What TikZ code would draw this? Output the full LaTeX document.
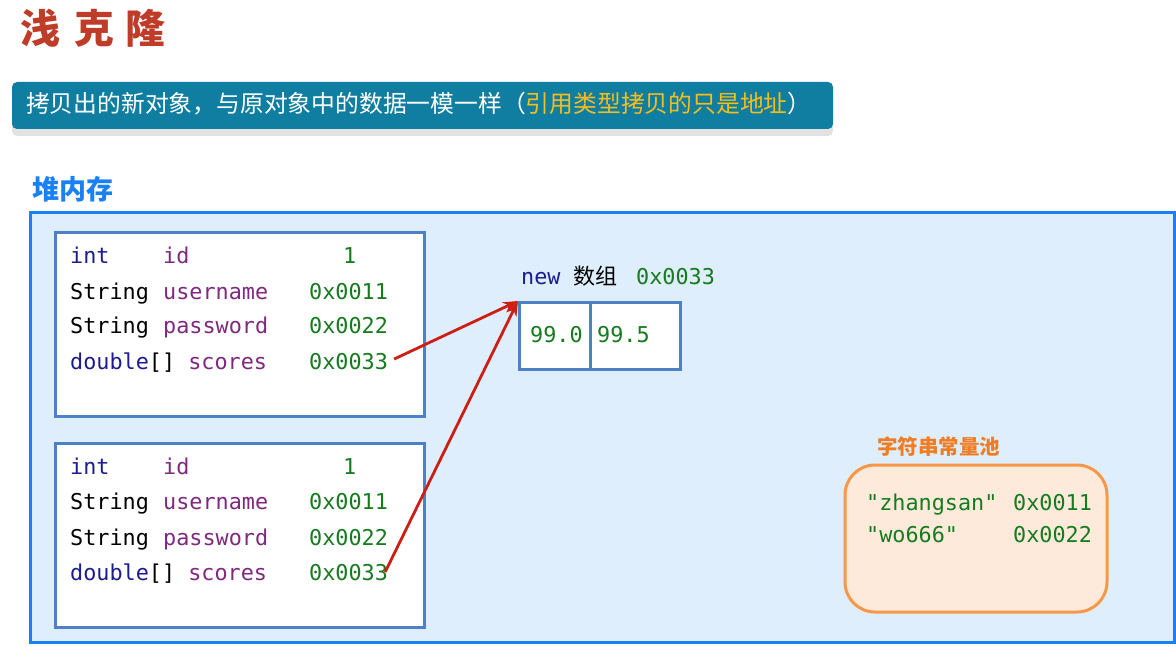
\documentclass[tikz,border=0pt]{standalone}
\usepackage{fontspec}
\setmainfont{Noto Sans CJK SC}
\newfontfamily\mono{DejaVu Sans Mono}
\newfontfamily\cjk{Noto Sans CJK SC}
\usetikzlibrary{arrows.meta}
\definecolor{titlered}{RGB}{190,60,40}
\definecolor{bannerbg}{RGB}{16,126,160}
\definecolor{bannershadow}{RGB}{226,226,226}
\definecolor{bannerhl}{RGB}{245,190,30}
\definecolor{heapblue}{RGB}{25,128,245}
\definecolor{heapfill}{RGB}{222,238,252}
\definecolor{objborder}{RGB}{78,128,200}
\definecolor{kwblue}{RGB}{28,28,140}
\definecolor{fieldpurple}{RGB}{128,40,128}
\definecolor{valgreen}{RGB}{22,122,30}
\definecolor{arrowred}{RGB}{205,30,20}
\definecolor{poolorange}{RGB}{240,125,35}
\definecolor{poolborder}{RGB}{247,152,72}
\definecolor{poolfill}{RGB}{253,234,218}
\tikzset{
  code/.style={font=\mono\fontsize{21.8}{24}\selectfont, inner sep=0pt, anchor=base west},
  kw/.style={code, text=kwblue},
  plain/.style={code, text=black},
  field/.style={code, text=fieldpurple},
  val/.style={code, text=valgreen},
  objbox/.style={draw=objborder, line width=3pt, fill=white},
  cell/.style={draw=objborder, line width=3pt, fill=white, inner sep=0pt, minimum height=67pt, anchor=north west},
  ref/.style={draw=arrowred, line width=2.8pt, -{Stealth[length=15pt,width=11pt]}},
  titlech/.style={text=titlered, font=\cjk\bfseries\fontsize{40}{42}\selectfont, inner sep=0pt},
}
\begin{document}
\begin{tikzpicture}[x=1pt,y=-1pt]
\useasboundingbox (0,0) rectangle (1176,647);
\fill[white] (0,0) rectangle (1176,647);
% title
\node[titlech] (t1) at (40,28) {浅};
\node[titlech] (t2) at (94,28) {克};
\node[titlech] (t3) at (145,28) {隆};
% banner
\fill[bannershadow, rounded corners=5pt] (12,88) rectangle (833,136);
\fill[bannerbg, rounded corners=5pt] (12,82) rectangle (833,129);
\node[anchor=west, inner sep=0pt, text=white, font=\cjk\fontsize{23.8}{26}\selectfont] (banner) at (26,104)
  {拷贝出的新对象，与原对象中的数据一模一样（\textcolor{bannerhl}{引用类型拷贝的只是地址}）};
% heap label
\node[anchor=west, inner sep=0pt, text=heapblue, font=\cjk\bfseries\fontsize{27}{29}\selectfont] (heaplbl) at (32,189) {堆内存};
% heap box
\draw[draw=heapblue, fill=heapfill, line width=3pt] (30,213) rectangle (1174,642);
% object 1
\draw[objbox] (55,233) rectangle (424,416);
\node[kw] (a1t) at (70,264) {int};
\node[field] (a1n) at (163,264) {id};
\node[val] (a1v) at (343,264) {1};
\node[plain] (a2t) at (70,299) {String};
\node[field] (a2n) at (163,299) {username};
\node[val] (a2v) at (309,299) {0x0011};
\node[plain] (a3t) at (70,334) {String};
\node[field] (a3n) at (163,334) {password};
\node[val] (a3v) at (309,334) {0x0022};
\node[code] (a4t) at (70,369) {\textcolor{kwblue}{double}[] \textcolor{fieldpurple}{scores}};
\node[val] (a4v) at (309,369) {0x0033};
% object 2
\draw[objbox] (55,443) rectangle (424,627);
\node[kw] (b1t) at (70,474) {int};
\node[field] (b1n) at (163,474) {id};
\node[val] (b1v) at (343,474) {1};
\node[plain] (b2t) at (70,509) {String};
\node[field] (b2n) at (163,509) {username};
\node[val] (b2v) at (309,509) {0x0011};
\node[plain] (b3t) at (70,545) {String};
\node[field] (b3n) at (163,545) {password};
\node[val] (b3v) at (309,545) {0x0022};
\node[code] (b4t) at (70,580) {\textcolor{kwblue}{double}[] \textcolor{fieldpurple}{scores}};
\node[val] (b4v) at (309,580) {0x0033};
% array
\node[kw] (newkw) at (521,284) {new};
\node[anchor=base west, inner sep=0pt, font=\cjk\fontsize{22}{24}\selectfont] (arrlbl) at (573,284) {数组};
\node[val] (arraddr) at (636,284) {0x0033};
\node[cell, minimum width=71pt] (c1) at (518,301) {};
\node[cell, minimum width=90pt] (c2) at (589,301) {};
\node[val] (c1v) at (530,342) {99.0};
\node[val] (c2v) at (597,342) {99.5};
% references
\draw[ref] ([shift={(6,-2)}]a4v.east) -- (c1.north west);
\draw[ref] ([xshift=-3]b4v.east) -- (c1.north west);
% string pool
\node[anchor=west, inner sep=0pt, text=poolorange, font=\cjk\bfseries\fontsize{20.5}{22}\selectfont] (poollbl) at (877,447) {字符串常量池};
\draw[draw=poolborder, fill=poolfill, line width=3pt, rounded corners=30pt] (845,465) rectangle (1107,612);
\node[val] (p1s) at (866,510) {"zhangsan"};
\node[val] (p1v) at (1013,510) {0x0011};
\node[val] (p2s) at (866,542) {"wo666"};
\node[val] (p2v) at (1013,542) {0x0022};
\end{tikzpicture}
\end{document}
